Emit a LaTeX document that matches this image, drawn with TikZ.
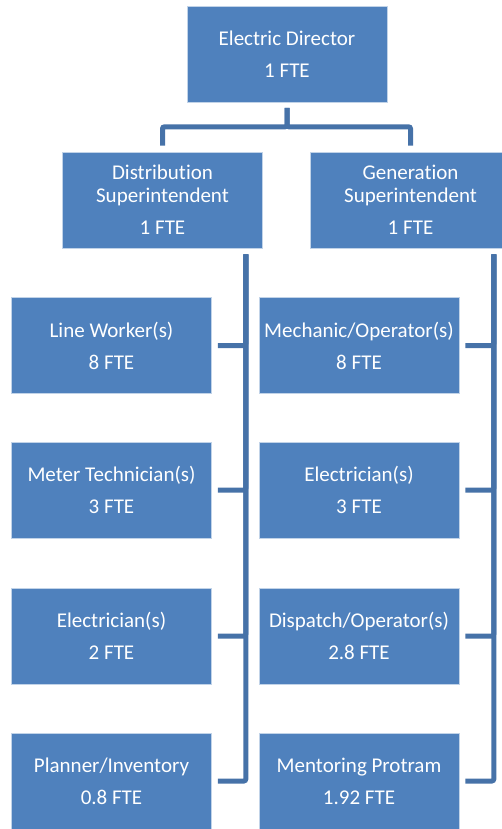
\documentclass[tikz,border=0pt]{standalone}
\usepackage{fontspec}
\setmainfont[Ligatures=NoCommon]{Carlito}
\definecolor{boxblue}{HTML}{4F81BD}
\definecolor{linkblue}{HTML}{4672A8}
\begin{document}
\begin{tikzpicture}[x=1pt,y=-1pt,
        post/.style={fill=boxblue,draw=white!65!boxblue,line width=0.6pt,minimum width=200pt,minimum height=96pt,
                inner sep=0pt,text=white,align=center,font=\fontsize{21}{23}\selectfont},
        link/.style={draw=linkblue,line width=5pt,rounded corners=2pt}]
        \useasboundingbox (0,0) rectangle (501,829);
        \node[post] (dir) at (287,54.5) {Electric Director\\[9pt]1 FTE};
        \node[post] (dist) at (162.5,200) {Distribution\\Superintendent\\[9pt]1 FTE};
        \node[post] (gen) at (410.5,200) {Generation\\Superintendent\\[9pt]1 FTE};
        \node[post] (lw) at (111.5,345.5) {Line Worker(s)\\[9pt]8 FTE};
        \node[post] (mt) at (111.5,490) {Meter Technician(s)\\[9pt]3 FTE};
        \node[post] (el) at (111.5,636) {Electrician(s)\\[9pt]2 FTE};
        \node[post] (pi) at (111.5,781) {Planner/Inventory\\[9pt]0.8 FTE};
        \node[post] (mo) at (359,345.5) {Mechanic/Operator(s)\\[9pt]8 FTE};
        \node[post] (ge) at (359,490) {Electrician(s)\\[9pt]3 FTE};
        \node[post] (dp) at (359,636) {Dispatch/Operator(s)\\[9pt]2.8 FTE};
        \node[post] (mp) at (359,781) {Mentoring Protram\\[9pt]1.92 FTE};
        \draw[link] ([yshift=-5pt]dir.south) -- ++(0,19) -| ([yshift=6pt]dist.north);
        \draw[link] ([yshift=-5pt]dir.south) -- ++(0,19) -| ([yshift=6pt]gen.north);
        \coordinate (dtop) at ([xshift=-17pt,yshift=-6pt]dist.south east);
        \coordinate (gtop) at ([xshift=-17pt,yshift=-6pt]gen.south east);
        \foreach \n in {lw,mt,el,pi}
                \draw[link] ([xshift=6pt]\n.east) -| (dtop);
        \foreach \n in {mo,ge,dp,mp}
                \draw[link] ([xshift=6pt]\n.east) -| (gtop);
\end{tikzpicture}
\end{document}
